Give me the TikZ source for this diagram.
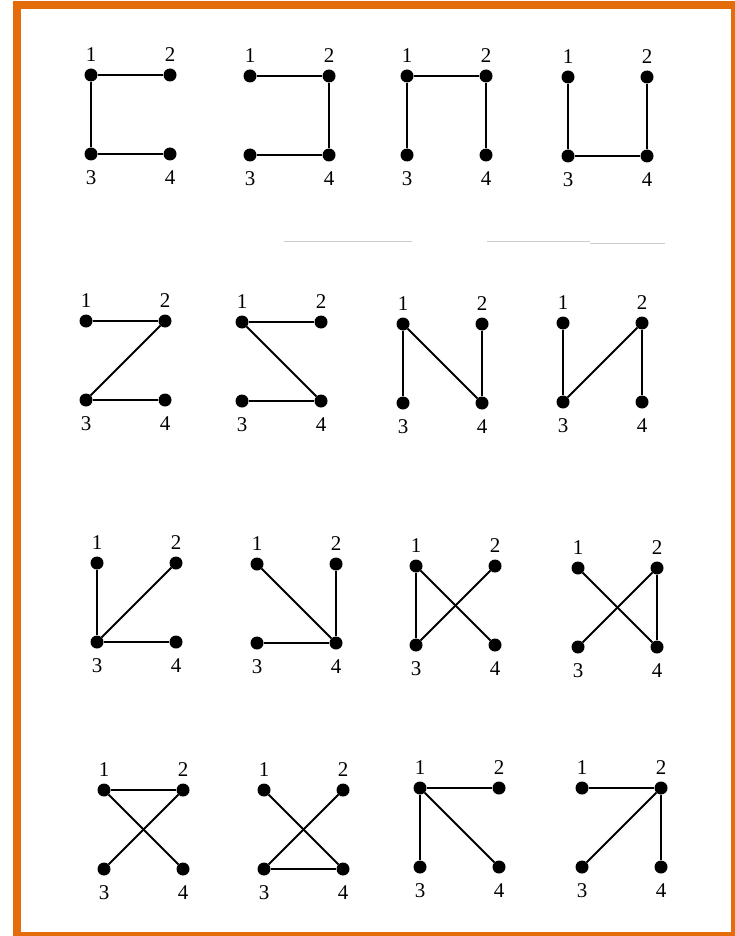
\documentclass[tikz,border=0pt]{standalone}
\usepackage{fontspec}
\setmainfont{Liberation Serif}
\usepackage{tikz}
\usetikzlibrary{positioning}
\definecolor{frameorange}{HTML}{E46C0A}

\begin{document}
\begin{tikzpicture}[x=1pt, y=-1pt,
    V/.style={circle, fill=black, inner sep=0pt, minimum size=13pt},
    num/.style={font=\fontsize{21}{24}\selectfont, inner sep=0pt},
    E/.style={draw=black, line width=1.9pt},
  ]
  \useasboundingbox (0,0) rectangle (735,936);
  \draw[frameorange, line width=8pt] (17,5.5) rectangle (735,936);

  % scan marks between the rows
  \draw[gray!40, line width=1pt] (284,241) -- (412,241);
  \draw[gray!40, line width=1pt] (487,241) -- (590,241) (590,243) -- (665,243);

  % the sixteen trees: place of vertex 1, then the edges
  \foreach \g/\ox/\oy/\edges in {
      1/91/75/{1/2,1/3,3/4},    2/250/76/{1/2,2/4,3/4},
      3/407/76/{1/2,1/3,2/4},   4/568/77/{1/3,3/4,2/4},
      5/86/321/{1/2,2/3,3/4},   6/242/322/{1/2,1/4,3/4},
      7/403/324/{1/3,1/4,2/4},  8/563/323/{1/3,2/3,2/4},
      9/97/563/{1/3,2/3,3/4},   10/257/564/{1/4,2/4,3/4},
      11/416/566/{1/3,1/4,2/3}, 12/578/568/{1/4,2/3,2/4},
      13/104/790/{1/2,1/4,2/3}, 14/264/790/{1/4,2/3,3/4},
      15/420/788/{1/2,1/3,1/4}, 16/582/788/{1/2,2/3,2/4}}{
    \node[V] (g\g-1) at (\ox,\oy) {};
    \node[V] (g\g-2) at (\ox+79,\oy) {};
    \node[V] (g\g-3) at (\ox,\oy+79) {};
    \node[V] (g\g-4) at (\ox+79,\oy+79) {};

    \node[num, above=7pt of g\g-1] (n\g-1) {1};
    \node[num, above=7pt of g\g-2] (n\g-2) {2};
    \node[num, below=10pt of g\g-3] (n\g-3) {3};
    \node[num, below=10pt of g\g-4] (n\g-4) {4};

    \foreach \a/\b in \edges
      \draw[E] (g\g-\a) -- (g\g-\b);
  }
\end{tikzpicture}
\end{document}
